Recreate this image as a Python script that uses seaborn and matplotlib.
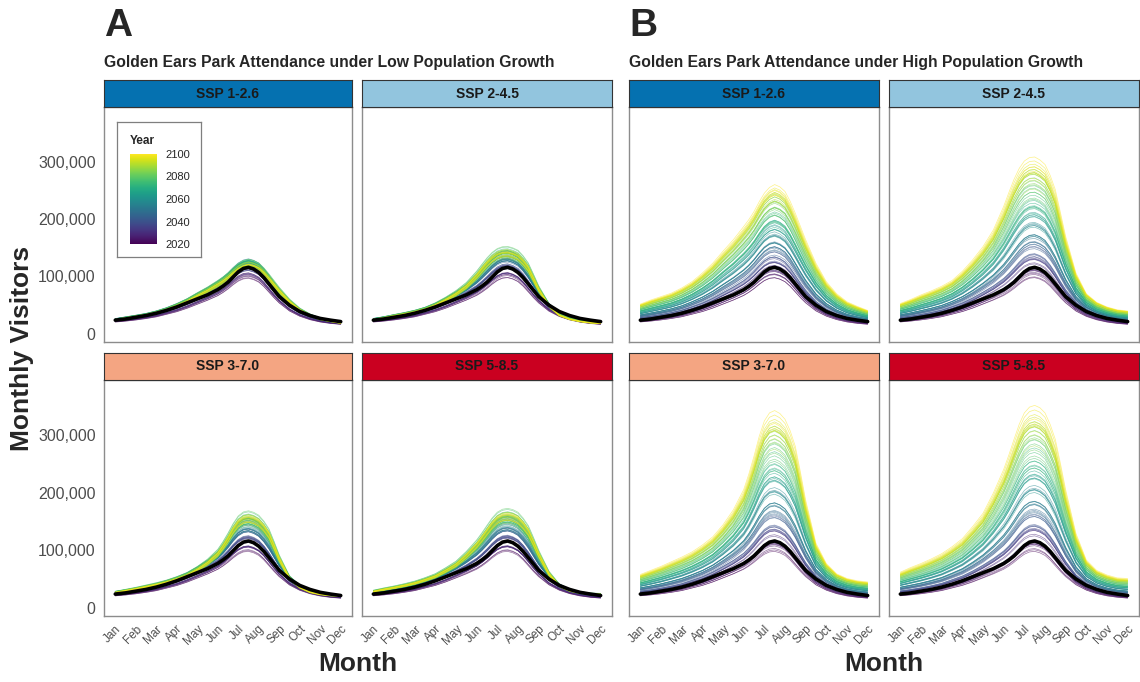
import numpy as np
import pandas as pd
import matplotlib
matplotlib.use("Agg")
import matplotlib.pyplot as plt
import seaborn as sns
from matplotlib.ticker import FuncFormatter
from matplotlib.colors import Normalize
from matplotlib.colorbar import ColorbarBase

# ---------------- data (thousands of visitors) ----------------
month_labels = ["Jan", "Feb", "Mar", "Apr", "May", "Jun",
                "Jul", "Aug", "Sep", "Oct", "Nov", "Dec"]
month_pos = [1, 1.5, 2, 2.5, 3, 3.5, 4, 4.5, 5, 5.5,
             6, 6.25, 6.5, 6.75, 7, 7.25, 7.5, 7.75, 8, 8.25, 8.5, 8.75, 9,
             9.5, 10, 10.5, 11, 11.5, 12]

baseline = [24, 26, 29, 32, 36, 41, 47, 54, 61, 68,
            77, 83, 90, 99, 108, 114, 116, 113, 107, 98, 87, 76, 65,
            50, 39, 32, 27, 24, 21.5]
profile_2020 = [21, 22.5, 24.5, 27, 30, 34.5, 39, 45, 52, 59,
                67, 72.5, 79, 86.5, 93, 97, 98, 95.5, 91, 83, 73, 63, 54,
                40, 31, 25, 21, 18.5, 17]

# 2100 upper envelope under high population growth
top_ssp126_high = [52, 59, 65, 71, 80, 91, 106, 123, 144, 164,
                   187, 199, 213, 230, 245, 255, 260, 256, 248, 231, 210, 187, 164,
                   123, 91, 70, 56, 48, 41]
top_ssp245_high = [53, 60, 68, 75, 83, 93, 109, 129, 152, 181,
                   222, 246, 269, 288, 301, 307, 308, 303, 295, 276, 251, 211, 170,
                   106, 70, 55, 47, 42, 40]
top_ssp370_high = [58, 65, 72, 80, 88, 97, 109, 123, 144, 170,
                   205, 232, 263, 297, 324, 338, 342, 337, 327, 307, 280, 235, 187,
                   112, 77, 59, 51, 47, 45]
top_ssp585_high = [62, 70, 77, 85, 94, 106, 120, 141, 164, 199,
                   240, 265, 292, 318, 338, 348, 351, 347, 338, 318, 292, 250, 205,
                   129, 83, 65, 57, 52, 51]

years = list(range(2020, 2101))
pop_high = [1.00, 1.02, 1.04, 1.05, 1.07, 1.09, 1.11, 1.12, 1.14, 1.16,
            1.18, 1.19, 1.21, 1.23, 1.25, 1.26, 1.28, 1.30, 1.32, 1.33,
            1.35, 1.37, 1.39, 1.40, 1.42, 1.44, 1.46, 1.47, 1.49, 1.51,
            1.53, 1.54, 1.56, 1.58, 1.60, 1.61, 1.63, 1.65, 1.67, 1.68,
            1.70, 1.72, 1.74, 1.75, 1.77, 1.79, 1.81, 1.82, 1.84, 1.86,
            1.88, 1.89, 1.91, 1.93, 1.95, 1.96, 1.98, 2.00, 2.02, 2.03,
            2.05, 2.07, 2.09, 2.10, 2.12, 2.14, 2.16, 2.17, 2.19, 2.21,
            2.23, 2.24, 2.26, 2.28, 2.30, 2.31, 2.33, 2.35, 2.37, 2.38,
            2.40]
pop_low = [1.00, 1.01, 1.02, 1.03, 1.04, 1.05, 1.06, 1.07, 1.08, 1.09,
           1.10, 1.10, 1.11, 1.12, 1.13, 1.13, 1.14, 1.15, 1.15, 1.16,
           1.16, 1.17, 1.17, 1.18, 1.18, 1.18, 1.19, 1.19, 1.19, 1.19,
           1.20, 1.20, 1.20, 1.20, 1.20, 1.20, 1.20, 1.20, 1.20, 1.20,
           1.20, 1.20, 1.19, 1.19, 1.19, 1.19, 1.18, 1.18, 1.18, 1.18,
           1.17, 1.17, 1.17, 1.16, 1.16, 1.16, 1.16, 1.15, 1.15, 1.15,
           1.15, 1.14, 1.14, 1.14, 1.14, 1.13, 1.13, 1.13, 1.13, 1.13,
           1.13, 1.12, 1.12, 1.12, 1.12, 1.12, 1.12, 1.12, 1.12, 1.12,
           1.12]
climate_ramp = [0.00, 0.08, -0.04, 0.12, 0.03, 0.15, 0.01, 0.10, 0.18, 0.06,
                0.14, 0.22, 0.05, 0.19, 0.28, 0.11, 0.24, 0.16, 0.31, 0.20,
                0.35, 0.18, 0.29, 0.41, 0.23, 0.37, 0.30, 0.46, 0.27, 0.40,
                0.50, 0.33, 0.45, 0.56, 0.38, 0.52, 0.44, 0.61, 0.42, 0.55,
                0.66, 0.48, 0.59, 0.71, 0.53, 0.64, 0.76, 0.57, 0.69, 0.62,
                0.80, 0.63, 0.74, 0.86, 0.68, 0.79, 0.90, 0.71, 0.83, 0.77,
                0.93, 0.74, 0.85, 0.97, 0.80, 0.89, 0.78, 0.95, 0.84, 0.91,
                1.00, 0.82, 0.93, 0.87, 0.98, 0.85, 0.95, 0.90, 1.00, 0.88,
                1.00]
weather_factor = [1.00, 0.97, 1.03, 0.99, 1.04, 0.96, 1.02, 0.98, 1.05, 0.97,
                  1.01, 1.04, 0.96, 1.02, 0.99, 1.05, 0.97, 1.03, 0.95, 1.01,
                  1.04, 0.98, 1.02, 0.96, 1.05, 0.99, 1.03, 0.97, 1.01, 1.04,
                  0.96, 1.02, 0.99, 1.05, 0.97, 1.03, 0.95, 1.01, 1.04, 0.98,
                  1.02, 0.96, 1.05, 0.99, 1.03, 0.97, 1.01, 1.04, 0.96, 1.02,
                  0.99, 1.05, 0.97, 1.03, 0.95, 1.01, 1.04, 0.98, 1.02, 0.96,
                  1.05, 0.99, 1.03, 0.97, 1.01, 1.04, 0.96, 1.02, 0.99, 1.03,
                  0.97, 1.02, 0.95, 1.01, 0.99, 0.98, 1.00, 0.96, 0.99, 0.98,
                  1.00]

ssp_names = ["SSP 1-2.6", "SSP 2-4.5", "SSP 3-7.0", "SSP 5-8.5"]
ssp_colors = ["#0571b0", "#92c5de", "#f4a582", "#ca0020"]
y_ticks = [0, 100000, 200000, 300000]

# ---------------- build long table ----------------
tops = [top_ssp126_high, top_ssp245_high, top_ssp370_high, top_ssp585_high]
low = np.array(profile_2020)
rows = []
for panel, pop in (("low", pop_low), ("high", pop_high)):
    for s, name in enumerate(ssp_names):
        delta = np.array(tops[s]) / pop_high[-1] - low
        for i, yr in enumerate(years):
            vals = (pop[i] * weather_factor[i]
                    * (low + climate_ramp[i] * delta) * 1000)
            for xm, v in zip(month_pos, vals):
                rows.append((panel, name, yr, xm, v))
df = pd.DataFrame(rows, columns=["panel", "ssp", "year", "month", "visitors"])
base_df = pd.DataFrame({"month": month_pos,
                        "visitors": np.array(baseline) * 1000})

# ---------------- figure ----------------
sns.set_style("white")
plt.rcParams["font.family"] = ["Liberation Sans", "DejaVu Sans"]
W, H = 1140, 682
fig = plt.figure(figsize=(W / 100, H / 100), dpi=100)


def rect(x0, y0, x1, y1):
    return [x0 / W, 1 - y1 / H, (x1 - x0) / W, (y1 - y0) / H]


cols = {"low": [(104, 352), (362, 612)], "high": [(629, 879), (889, 1139)]}
rows_px = [((80, 107), (107, 342)), ((353, 380), (380, 616))]
fmt = FuncFormatter(lambda v, p: f"{int(v):,}")

for panel in ("low", "high"):
    for k, name in enumerate(ssp_names):
        r, c = divmod(k, 2)
        (sx0, sx1) = cols[panel][c]
        (st, sb), (pt, pb) = rows_px[r]
        ax = fig.add_axes(rect(sx0, pt, sx1, pb))
        sub = df[(df.panel == panel) & (df.ssp == name)]
        sns.lineplot(data=sub, x="month", y="visitors", hue="year",
                     palette="viridis", hue_norm=(2020, 2100), units="year",
                     estimator=None, linewidth=0.5, alpha=0.55, legend=False,
                     sort=False, ax=ax)
        sns.lineplot(data=base_df, x="month", y="visitors", color="black",
                     linewidth=2.6, sort=False, ax=ax)
        ax.set_xlim(0.45, 12.55)
        ax.set_ylim(-14000, 395000)
        ax.set_xlabel("")
        ax.set_ylabel("")
        for sp in ax.spines.values():
            sp.set_color("#8c8c8c")
            sp.set_linewidth(1.0)
        ax.set_yticks(y_ticks)
        ax.yaxis.set_major_formatter(fmt)
        ax.set_xticks(range(1, 13))
        ax.set_xticklabels(month_labels)
        ax.tick_params(axis="both", length=4, width=0.8, color="#333333",
                       labelcolor="#4d4d4d")
        ax.tick_params(axis="y", labelsize=11.5, pad=2)
        ax.tick_params(axis="x", labelsize=8.5, pad=1)
        if c != 0:
            ax.tick_params(axis="y", left=False, labelleft=False)
        elif panel == "high":
            ax.tick_params(axis="y", labelleft=False)
        if r == 0:
            ax.tick_params(axis="x", bottom=False, labelbottom=False)
        else:
            for lab in ax.get_xticklabels():
                lab.set_rotation(45)
                lab.set_ha("right")
                lab.set_rotation_mode("anchor")
        # strip
        sax = fig.add_axes(rect(sx0, st, sx1, sb))
        sax.set_facecolor(ssp_colors[k])
        sax.set_xticks([])
        sax.set_yticks([])
        for sp in sax.spines.values():
            sp.set_color("#333333")
            sp.set_linewidth(0.8)
        sax.text(0.5, 0.5, name, ha="center", va="center", fontsize=10,
                 fontweight="bold", color="#1a1a1a", transform=sax.transAxes)

# legend (colour bar) inside first facet
lax = fig.add_axes(rect(117, 122, 201, 257))
lax.set_xticks([])
lax.set_yticks([])
lax.set_facecolor("white")
for sp in lax.spines.values():
    sp.set_color("#7f7f7f")
    sp.set_linewidth(0.9)
lax.text(13 / 84, 1 - 19 / 135, "Year", transform=lax.transAxes,
         fontsize=8.5, fontweight="bold", va="center", ha="left")
cax = fig.add_axes(rect(130, 154, 157, 244))
cb = ColorbarBase(cax, cmap=plt.get_cmap("viridis"),
                  norm=Normalize(2020, 2100), orientation="vertical")
cb.outline.set_visible(False)
cb.set_ticks([2020, 2040, 2060, 2080, 2100])
cax.tick_params(axis="y", direction="in", color="white", length=4,
                width=0.8, left=True, right=True, labelleft=False,
                labelright=True, labelsize=8, pad=6)

# titles and labels
fig.text(104 / W, 1 - 26 / H, "A", fontsize=28, fontweight="bold",
         va="center", ha="left")
fig.text(629 / W, 1 - 26 / H, "B", fontsize=28, fontweight="bold",
         va="center", ha="left")
fig.text(104 / W, 1 - 63 / H,
         "Golden Ears Park Attendance under Low Population Growth",
         fontsize=11.3, fontweight="bold", va="center", ha="left")
fig.text(629 / W, 1 - 63 / H,
         "Golden Ears Park Attendance under High Population Growth",
         fontsize=11.3, fontweight="bold", va="center", ha="left")
fig.text(22 / W, 1 - 348 / H, "Monthly Visitors", fontsize=19,
         fontweight="bold", rotation=90, va="center", ha="center")
fig.text(358 / W, 1 - 664 / H, "Month", fontsize=19, fontweight="bold",
         va="center", ha="center")
fig.text(884 / W, 1 - 664 / H, "Month", fontsize=19, fontweight="bold",
         va="center", ha="center")

fig.savefig("out.png", dpi=100, facecolor="white")
